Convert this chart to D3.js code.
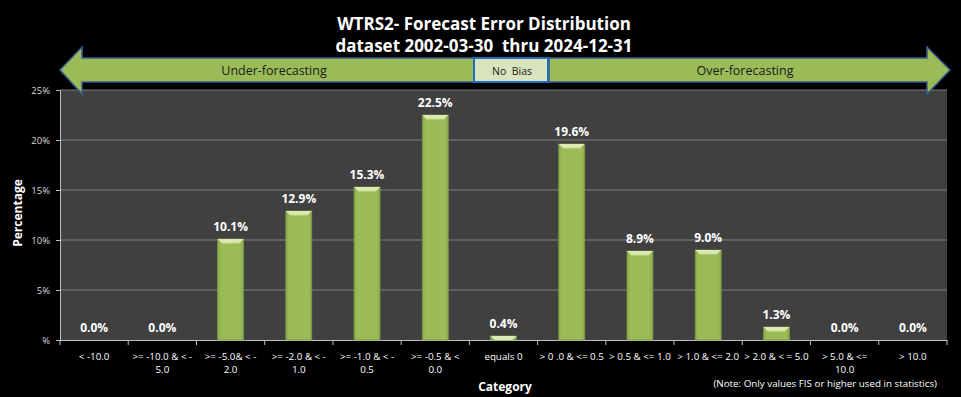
<!DOCTYPE html>
<html><head><meta charset="utf-8">
<script src="https://cdn.jsdelivr.net/npm/d3@7"></script>
<style>html,body{margin:0;padding:0;background:#000;}svg{display:block;} text{white-space:pre;}</style>
</head><body>
<script>
const categories = ["< -10.0", ">= -10.0 & < -\n5.0", ">= -5.0& < -\n2.0", ">= -2.0 & < -\n1.0", ">= -1.0 & < -\n0.5", ">= -0.5 & <\n0.0", "equals 0", "> 0 .0 & <= 0.5", "> 0.5 & <= 1.0", "> 1.0 & <= 2.0", "> 2.0 & < = 5.0", "> 5.0 & <=\n10.0", "> 10.0"];
const values = [0.0, 0.0, 10.1, 12.9, 15.3, 22.5, 0.4, 19.6, 8.9, 9.0, 1.3, 0.0, 0.0];
const yTicks = [0, 5, 10, 15, 20, 25];
const titleLines = ["WTRS2- Forecast Error Distribution", "dataset 2002-03-30  thru 2024-12-31"];

const W = 961, H = 397;
const m = {left: 60, right: 14, top: 90, bottom: 57};
const svg = d3.select("body").append("svg").attr("width", W).attr("height", H);
const font = "'Open Sans', sans-serif";

svg.append("rect").attr("width", W).attr("height", H).attr("fill", "#000");

const x = d3.scaleBand().domain(d3.range(categories.length)).range([m.left, W - m.right]).paddingInner(0).paddingOuter(0);
const y = d3.scaleLinear().domain([0, 25]).range([H - m.bottom, m.top]);

// plot background
svg.append("rect").attr("x", m.left).attr("y", m.top).attr("width", W - m.right - m.left).attr("height", H - m.bottom - m.top).attr("fill", "#404040");

// gridlines
svg.append("g").selectAll("line").data(yTicks.filter(d => d > 0)).join("line")
  .attr("x1", m.left).attr("x2", W - m.right).attr("y1", d => y(d)).attr("y2", d => y(d))
  .attr("stroke", "#7f7f7f").attr("stroke-width", 1.2);

// y axis
const yAxis = svg.append("g").attr("transform", `translate(${m.left},0)`)
  .call(d3.axisLeft(y).tickValues(yTicks).tickFormat(d => d === 0 ? "%" : d + "%").tickSize(4).tickPadding(6));
yAxis.select(".domain").attr("stroke", "#bfbfbf");
yAxis.selectAll(".tick line").attr("stroke", "#bfbfbf");
yAxis.selectAll("text").attr("fill", "#d9d9d9").style("font-family", font).style("font-size", "9.5px");

// x axis
const xAxis = svg.append("g").attr("transform", `translate(0,${H - m.bottom})`)
  .call(d3.axisBottom(x).tickFormat("").tickSize(0));
xAxis.select(".domain").attr("stroke", "#bfbfbf");
const tickPos = d3.range(categories.length + 1).map(i => m.left + i * x.bandwidth());
svg.append("g").selectAll("line").data(tickPos).join("line")
  .attr("x1", d => d).attr("x2", d => d).attr("y1", H - m.bottom).attr("y2", H - m.bottom + 5)
  .attr("stroke", "#bfbfbf");

// x labels
svg.append("g").selectAll("text").data(categories).join("text")
  .attr("x", (d, i) => x(i) + x.bandwidth() / 2)
  .attr("y", H - m.bottom + 19.5)
  .attr("text-anchor", "middle").attr("fill", "#fff")
  .style("font-family", font).style("font-size", "9.8px")
  .each(function(d) {
    const t = d3.select(this);
    d.split("\n").forEach((ln, k) => {
      t.append("tspan").attr("x", t.attr("x")).attr("dy", k === 0 ? 0 : 13).text(ln);
    });
  });

// bars with bevel
const defs = svg.append("defs");
const grad = defs.append("linearGradient").attr("id", "barg").attr("x1", 0).attr("x2", 1).attr("y1", 0).attr("y2", 0);
grad.append("stop").attr("offset", "0").attr("stop-color", "#8aaa4a");
grad.append("stop").attr("offset", "0.12").attr("stop-color", "#9bbb59");
grad.append("stop").attr("offset", "0.88").attr("stop-color", "#9bbb59");
grad.append("stop").attr("offset", "1").attr("stop-color", "#8aaa4a");

const bw = x.bandwidth() * 0.38;
values.forEach((v, i) => {
  if (v <= 0) return;
  const cx = x(i) + x.bandwidth() / 2;
  const x0 = cx - bw / 2, top = y(v), base = y(0);
  const g = svg.append("g");
  g.append("rect").attr("x", x0).attr("y", top).attr("width", bw).attr("height", base - top)
    .attr("fill", "url(#barg)").attr("stroke", "#7d9a43").attr("stroke-width", 0.8);
  const bh = Math.min(4, base - top);
  g.append("path").attr("d", `M${x0},${top} L${x0 + bw},${top} L${x0 + bw - 4},${top + bh} L${x0 + 4},${top + bh} Z`)
    .attr("fill", "#dbe9b5");
  if (base - top > 4) {
    g.append("path").attr("d", `M${x0 + 4},${top + bh} L${x0 + bw - 4},${top + bh}`).attr("stroke", "#c6da8d").attr("stroke-width", 1);
  }
});

// value labels
svg.append("g").selectAll("text").data(values).join("text")
  .attr("x", (d, i) => x(i) + x.bandwidth() / 2)
  .attr("y", d => y(d) - 8)
  .attr("text-anchor", "middle").attr("fill", "#fff")
  .style("font-family", font).style("font-size", "12px").style("font-weight", "bold")
  .text(d => d.toFixed(1) + "%");

// titles
svg.append("g").selectAll("text").data(titleLines).join("text")
  .attr("x", 484).attr("y", (d, i) => 30 + i * 22)
  .attr("text-anchor", "middle").attr("fill", "#fff")
  .style("font-family", font).style("font-size", "17px").style("font-weight", "bold")
  .text(d => d);

// arrows
const aTop = 58, aBot = 82, hTop = 47, hBot = 94, mid = 70;
svg.append("path")
  .attr("d", `M60,${mid} L82,${hTop} L82,${aTop} L474,${aTop} L474,${aBot} L82,${aBot} L82,${hBot} Z`)
  .attr("fill", "#9bbb59").attr("stroke", "#385d8a").attr("stroke-width", 1.5);
svg.append("path")
  .attr("d", `M549,${aTop} L927,${aTop} L927,${hTop} L950,${mid} L927,${hBot} L927,${aBot} L549,${aBot} Z`)
  .attr("fill", "#9bbb59").attr("stroke", "#385d8a").attr("stroke-width", 1.5);
svg.append("rect").attr("x", 474).attr("y", aTop).attr("width", 74).attr("height", aBot - aTop)
  .attr("fill", "#d7e4bd").attr("stroke", "#1f6ebf").attr("stroke-width", 2);
const arrowText = [{t: "Under-forecasting", x: 274, s: 12.5}, {t: "No  Bias", x: 512, s: 10.5}, {t: "Over-forecasting", x: 745, s: 12.5}];
svg.append("g").selectAll("text").data(arrowText).join("text")
  .attr("x", d => d.x).attr("y", mid + 4.5).attr("text-anchor", "middle").attr("fill", "#1a1a1a")
  .style("font-family", font).style("font-size", d => d.s + "px").text(d => d.t);

// axis titles
svg.append("text").attr("transform", `translate(22,${(m.top + H - m.bottom) / 2 - 2}) rotate(-90)`)
  .attr("text-anchor", "middle").attr("fill", "#fff")
  .style("font-family", font).style("font-size", "12px").style("font-weight", "bold").text("Percentage");
svg.append("text").attr("x", 505).attr("y", 391).attr("text-anchor", "middle").attr("fill", "#fff")
  .style("font-family", font).style("font-size", "12px").style("font-weight", "bold").text("Category");
svg.append("text").attr("x", 937).attr("y", 387).attr("text-anchor", "end").attr("fill", "#fff")
  .style("font-family", font).style("font-size", "9.8px").text("(Note: Only values FIS or higher used in statistics)");
</script>
</body></html>
